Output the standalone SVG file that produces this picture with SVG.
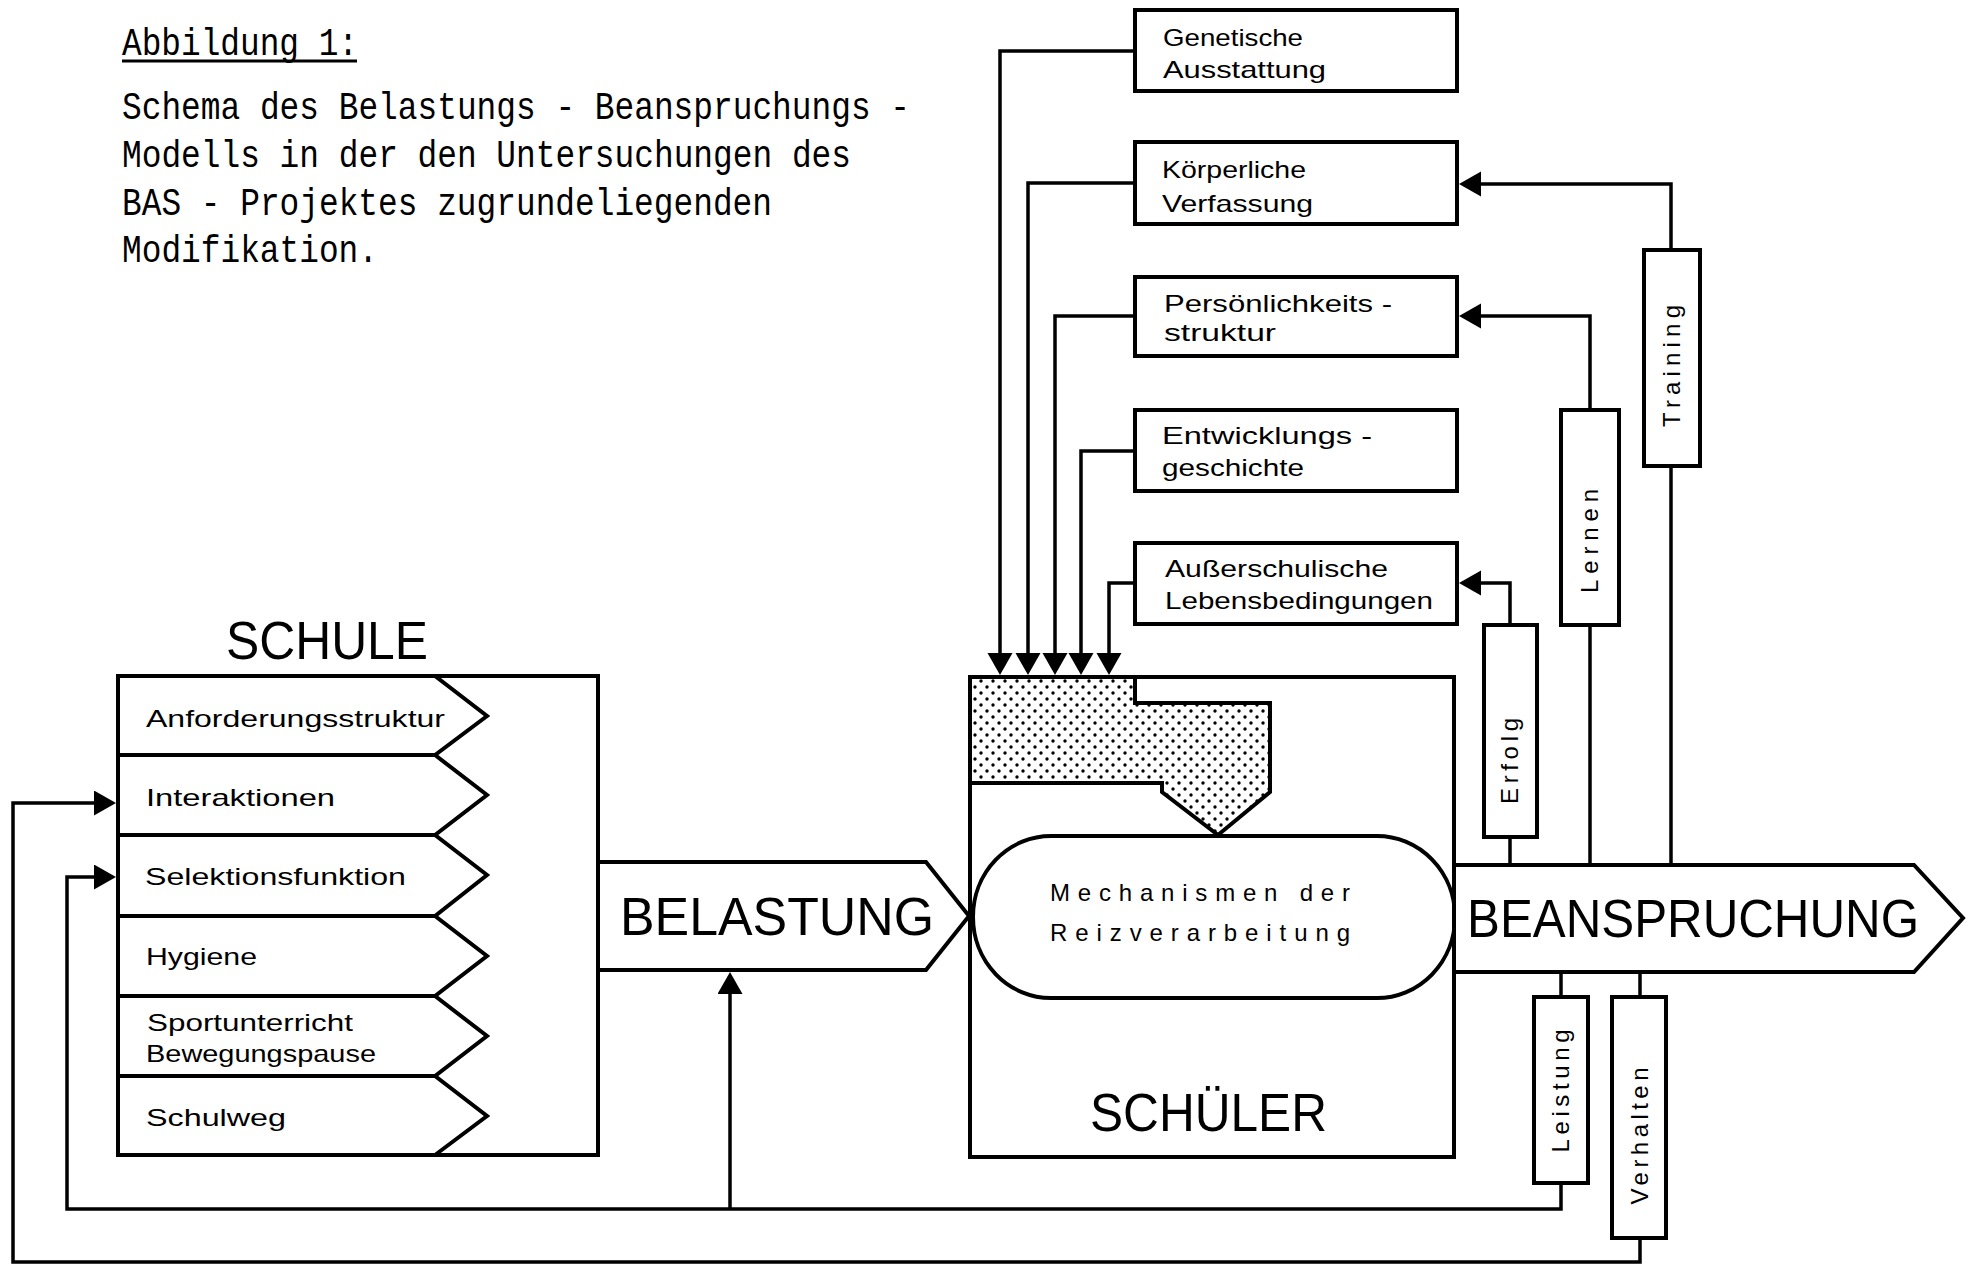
<svg xmlns="http://www.w3.org/2000/svg" width="1971" height="1266" viewBox="0 0 1971 1266">
<style>
.bx{fill:#fff;stroke:#000;stroke-width:4;stroke-linejoin:miter}
.ln{fill:none;stroke:#000;stroke-width:3.5}
.t{font-family:"Liberation Sans",Arial,sans-serif;font-size:24px;fill:#000}
.big{font-family:"Liberation Sans",Arial,sans-serif;font-size:54px;fill:#000}
.tw{font-family:"Liberation Mono","Courier New",monospace;font-size:38px;fill:#000}
</style>
<defs>
<marker id="ah" markerUnits="userSpaceOnUse" markerWidth="24" markerHeight="26" viewBox="0 0 24 26" refX="2" refY="12.5" orient="auto"><path d="M0,0 L22,12.5 L0,25 z" fill="#000"/></marker>
<pattern id="dots" patternUnits="userSpaceOnUse" width="12" height="12"><circle cx="3" cy="3" r="1.7" fill="#000"/><circle cx="9" cy="9" r="1.7" fill="#000"/></pattern>
</defs>
<rect width="1971" height="1266" fill="#fff"/>

<g id="title">
<text class="tw" x="122" y="55" textLength="236" lengthAdjust="spacingAndGlyphs">Abbildung 1:</text>
<line x1="122" y1="61" x2="357" y2="61" stroke="#000" stroke-width="3"/>
<text class="tw" x="122" y="119" textLength="788" lengthAdjust="spacingAndGlyphs">Schema des Belastungs - Beanspruchungs -</text>
<text class="tw" x="122" y="167" textLength="729" lengthAdjust="spacingAndGlyphs">Modells in der den Untersuchungen des</text>
<text class="tw" x="122" y="215" textLength="650" lengthAdjust="spacingAndGlyphs">BAS - Projektes zugrundeliegenden</text>
<text class="tw" x="122" y="262" textLength="256" lengthAdjust="spacingAndGlyphs">Modifikation.</text>
</g>

<g id="connectors">
<path class="ln" d="M1135,51 H1000 V655" marker-end="url(#ah)"/>
<path class="ln" d="M1135,183 H1028 V655" marker-end="url(#ah)"/>
<path class="ln" d="M1135,316 H1055 V655" marker-end="url(#ah)"/>
<path class="ln" d="M1135,451 H1081 V655" marker-end="url(#ah)"/>
<path class="ln" d="M1135,583 H1109 V655" marker-end="url(#ah)"/>
<path class="ln" d="M1671,865 V466"/>
<path class="ln" d="M1671,250 V184 H1479" marker-end="url(#ah)"/>
<path class="ln" d="M1590,865 V625"/>
<path class="ln" d="M1590,410 V316 H1479" marker-end="url(#ah)"/>
<path class="ln" d="M1510,865 V837"/>
<path class="ln" d="M1510,625 V583 H1479" marker-end="url(#ah)"/>
<path class="ln" d="M1561,972 V997"/>
<path class="ln" d="M1561,1183 V1209 H67 V877 H96" marker-end="url(#ah)"/>
<path class="ln" d="M730,1209 V992" marker-end="url(#ah)"/>
<path class="ln" d="M1640,972 V997"/>
<path class="ln" d="M1640,1238 V1262 H13 V803 H96" marker-end="url(#ah)"/>
</g>

<g id="schule">
<text class="big" x="226" y="659" textLength="202" lengthAdjust="spacingAndGlyphs">SCHULE</text>
<rect class="bx" x="118" y="676" width="480" height="479"/>
</g>
<g id="row-anforderung"><polyline class="ln" style="stroke-width:4" points="118,676 435,676 487,716 435,755 118,755"/><text class="t" x="146" y="727" textLength="299" lengthAdjust="spacingAndGlyphs">Anforderungsstruktur</text></g>
<g id="row-interaktionen"><polyline class="ln" style="stroke-width:4" points="118,755 435,755 487,795 435,835 118,835"/><text class="t" x="146" y="806" textLength="189" lengthAdjust="spacingAndGlyphs">Interaktionen</text></g>
<g id="row-selektion"><polyline class="ln" style="stroke-width:4" points="118,835 435,835 487,875 435,916 118,916"/><text class="t" x="145" y="885" textLength="261" lengthAdjust="spacingAndGlyphs">Selektionsfunktion</text></g>
<g id="row-hygiene"><polyline class="ln" style="stroke-width:4" points="118,916 435,916 487,956 435,996 118,996"/><text class="t" x="146" y="965" textLength="111" lengthAdjust="spacingAndGlyphs">Hygiene</text></g>
<g id="row-sport"><polyline class="ln" style="stroke-width:4" points="118,996 435,996 487,1036 435,1076 118,1076"/><text class="t" x="147" y="1031" textLength="206" lengthAdjust="spacingAndGlyphs">Sportunterricht</text><text class="t" x="146" y="1062" textLength="230" lengthAdjust="spacingAndGlyphs">Bewegungspause</text></g>
<g id="row-schulweg"><polyline class="ln" style="stroke-width:4" points="118,1076 435,1076 487,1116 435,1155"/><text class="t" x="146" y="1126" textLength="140" lengthAdjust="spacingAndGlyphs">Schulweg</text></g>

<g id="belastung">
<polygon class="bx" points="598,862 926,862 969,916 926,970 598,970"/>
<text class="big" x="620" y="935" textLength="314" lengthAdjust="spacingAndGlyphs">BELASTUNG</text>
</g>

<g id="schueler">
<rect class="bx" x="970" y="677" width="484" height="480"/>
<polygon points="970,677 1135,677 1135,703 1270,703 1270,792 1218,835 1162,792 1162,783 970,783" fill="url(#dots)" stroke="#000" stroke-width="4"/>
<text class="big" x="1090" y="1131" textLength="237" lengthAdjust="spacingAndGlyphs">SCHÜLER</text>
</g>

<g id="mechanismen">
<rect class="bx" x="973" y="836" width="482" height="162" rx="78" ry="81"/>
<text class="t" x="1050" y="901" textLength="300" lengthAdjust="spacing">Mechanismen der</text>
<text class="t" x="1050" y="941" textLength="300" lengthAdjust="spacing">Reizverarbeitung</text>
</g>

<g id="beanspruchung">
<polygon class="bx" points="1454,865 1914,865 1963,918 1914,972 1454,972"/>
<text class="big" x="1467" y="937" textLength="452" lengthAdjust="spacingAndGlyphs">BEANSPRUCHUNG</text>
</g>

<g id="genetische"><rect class="bx" x="1135" y="10" width="322" height="81"/><text class="t" x="1163" y="46" textLength="140" lengthAdjust="spacingAndGlyphs">Genetische</text><text class="t" x="1163" y="78" textLength="163" lengthAdjust="spacingAndGlyphs">Ausstattung</text></g>
<g id="koerperliche"><rect class="bx" x="1135" y="142" width="322" height="82"/><text class="t" x="1162" y="178" textLength="144" lengthAdjust="spacingAndGlyphs">Körperliche</text><text class="t" x="1162" y="212" textLength="151" lengthAdjust="spacingAndGlyphs">Verfassung</text></g>
<g id="persoenlichkeit"><rect class="bx" x="1135" y="277" width="322" height="79"/><text class="t" x="1164" y="312" textLength="228" lengthAdjust="spacingAndGlyphs">Persönlichkeits -</text><text class="t" x="1164" y="341" textLength="112" lengthAdjust="spacingAndGlyphs">struktur</text></g>
<g id="entwicklung"><rect class="bx" x="1135" y="410" width="322" height="81"/><text class="t" x="1162" y="444" textLength="210" lengthAdjust="spacingAndGlyphs">Entwicklungs -</text><text class="t" x="1162" y="476" textLength="142" lengthAdjust="spacingAndGlyphs">geschichte</text></g>
<g id="ausserschulisch"><rect class="bx" x="1135" y="543" width="322" height="81"/><text class="t" x="1165" y="577" textLength="223" lengthAdjust="spacingAndGlyphs">Außerschulische</text><text class="t" x="1165" y="609" textLength="268" lengthAdjust="spacingAndGlyphs">Lebensbedingungen</text></g>

<g id="training"><rect class="bx" x="1644" y="250" width="56" height="216"/><text class="t" transform="translate(1672,366) rotate(-90)" x="0" y="8" text-anchor="middle" textLength="122" lengthAdjust="spacing">Training</text></g>
<g id="lernen"><rect class="bx" x="1561" y="410" width="58" height="215"/><text class="t" transform="translate(1590,541) rotate(-90)" x="0" y="8" text-anchor="middle" textLength="104" lengthAdjust="spacing">Lernen</text></g>
<g id="erfolg"><rect class="bx" x="1484" y="625" width="53" height="212"/><text class="t" transform="translate(1510,761) rotate(-90)" x="0" y="8" text-anchor="middle" textLength="86" lengthAdjust="spacing">Erfolg</text></g>
<g id="leistung"><rect class="bx" x="1534" y="997" width="54" height="186"/><text class="t" transform="translate(1561,1091) rotate(-90)" x="0" y="8" text-anchor="middle" textLength="123" lengthAdjust="spacing">Leistung</text></g>
<g id="verhalten"><rect class="bx" x="1612" y="997" width="54" height="241"/><text class="t" transform="translate(1640,1136) rotate(-90)" x="0" y="8" text-anchor="middle" textLength="137" lengthAdjust="spacing">Verhalten</text></g>
</svg>
